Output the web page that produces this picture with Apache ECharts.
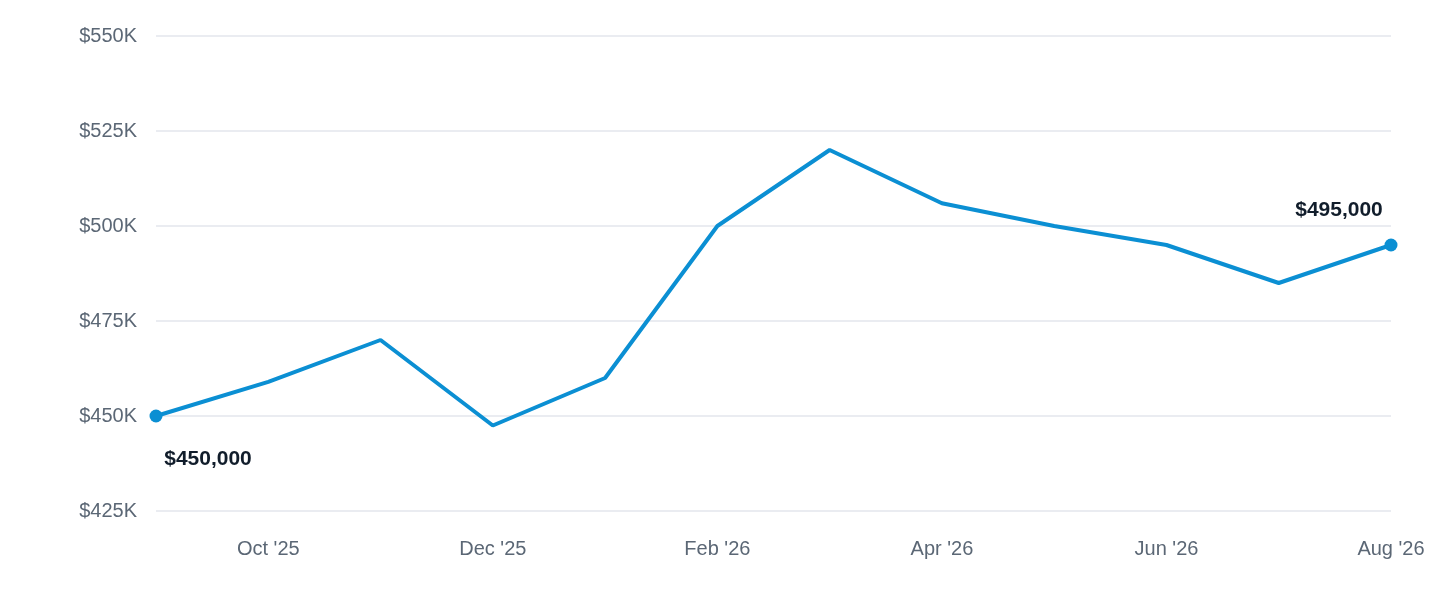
<!DOCTYPE html>
<html><head><meta charset="utf-8">
<script src="https://cdn.jsdelivr.net/npm/echarts@6/dist/echarts.min.js"></script>
<style>html,body{margin:0;padding:0;background:#fff}#c{width:1440px;height:600px}</style>
</head><body><div id="c"></div>
<script>
const months = ["Sep '25","Oct '25","Nov '25","Dec '25","Jan '26","Feb '26","Mar '26","Apr '26","May '26","Jun '26","Jul '26","Aug '26"];
const prices = [450000,459000,470000,447500,460000,500000,520000,506000,500000,495000,485000,495000];
const yTicks = {min:425000,max:550000,step:25000};
const last = prices.length-1;
const fmt = v => '$' + v.toLocaleString('en-US');
const chart = echarts.init(document.getElementById('c'));
chart.setOption({
  animation:false,
  grid:{left:156,right:49,top:36,bottom:89},
  xAxis:{type:'category',data:months,boundaryGap:false,
    axisLine:{show:false},axisTick:{show:false},
    axisLabel:{interval:0,formatter:(v,i)=>i%2===1?v:'',color:'#5b6775',fontSize:20,fontFamily:'Liberation Sans, Arial',margin:28}},
  yAxis:{type:'value',min:yTicks.min,max:yTicks.max,interval:yTicks.step,
    axisLabel:{formatter:v=>'$'+(v/1000)+'K',color:'#5b6775',fontSize:20,fontFamily:'Liberation Sans, Arial',margin:19}},
  series:[{type:'line',data:prices.map((v,i)=>({value:v,
      symbolSize:(i===0||i===last)?13:0,
      label:{show:(i===0||i===last),position:i===0?'bottom':'top',distance:i===0?20:14,
        offset:i===0?[52,6]:[-52,-4],
        formatter:p=>fmt(p.value),color:'#111d2b',fontWeight:'bold',fontSize:21,fontFamily:'Liberation Sans, Arial'}})),
    symbol:'circle',showSymbol:true,
    lineStyle:{color:'#0b8fd3',width:4},itemStyle:{color:'#0b8fd3'}}]
});
chart.setOption({yAxis:{splitLine:{lineStyle:{color:'#e3e6ec',width:1.5}}}});
</script></body></html>
